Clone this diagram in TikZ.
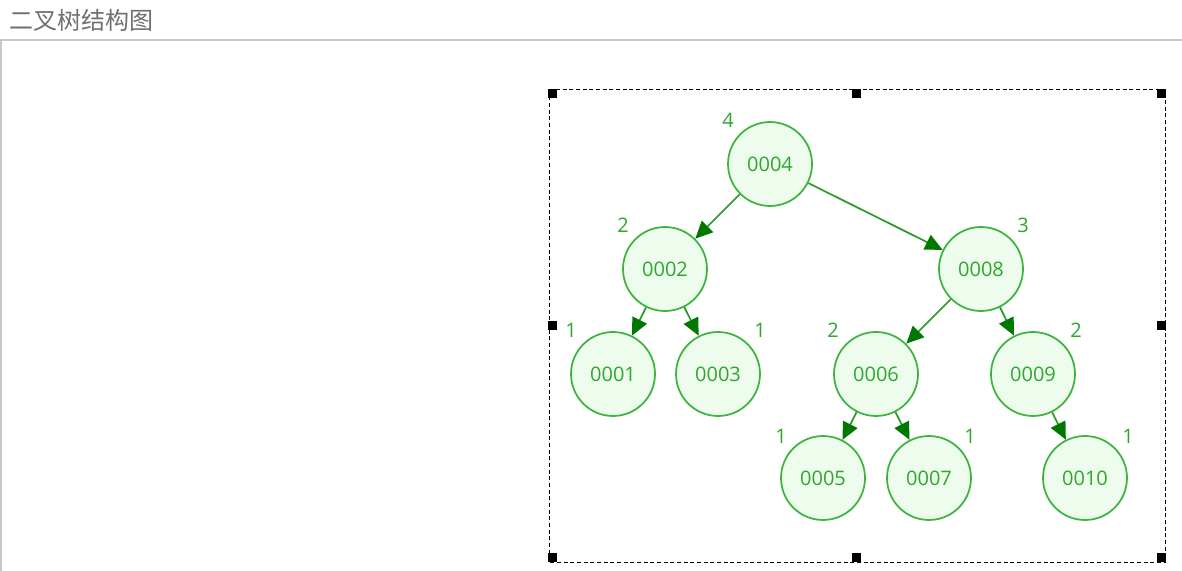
\documentclass[tikz,border=0pt]{standalone}
\usepackage{fontspec}
\setmainfont{Open Sans}
\newfontfamily\cjk{Noto Sans CJK SC}
\usetikzlibrary{arrows.meta}
\definecolor{nodeline}{HTML}{3CB43C}
\definecolor{nodefill}{HTML}{EEFCEE}
\definecolor{nodetext}{HTML}{2DA82D}
\definecolor{edgeline}{HTML}{2A9A2A}
\definecolor{tipgreen}{HTML}{007800}
\definecolor{rulegray}{HTML}{C8C8C8}
\definecolor{titlegray}{HTML}{707070}
\tikzset{
    treenode/.style={circle, draw=nodeline, fill=nodefill, line width=1.3pt, minimum size=63pt, inner sep=0pt, text=nodetext, font=\fontsize{15}{17}\selectfont},
    heightlabel/.style={text=nodetext, inner sep=0pt, font=\fontsize{15}{17}\selectfont},
    treeedge/.style={draw=edgeline, line width=1.3pt, -{Triangle[length=13pt, width=12pt, color=tipgreen]}}
}
\begin{document}
\begin{tikzpicture}[x=0.75pt, y=-0.75pt]
            \useasboundingbox (0, 0) rectangle (1182, 571);
            \fill[white] (0, 0) rectangle (1182, 571);
            % header
            \node[anchor=west, inner sep=0pt, text=titlegray, font=\cjk\fontsize{18}{20}\selectfont] (title) at (9, 20) {二叉树结构图};
            \draw[rulegray, line width=1.1pt] (0, 40) -- (1182, 40);
            \draw[rulegray, line width=0.8pt] (1, 40) -- (1, 571);
            % selection frame
            \draw[dashed, dash pattern=on 3pt off 2pt, line width=0.75pt] (549.5, 89.5) rectangle (1165.5, 562);
            \foreach \hx/\hy in {548/89, 852/89, 1157/89, 548/321, 1157/321, 548/553, 852/553, 1157/553}
                \fill (\hx, \hy) rectangle ++(9, 9);
            % tree
            \node[treenode] (n4) at (770, 164) {0004};
            \node[treenode] (n2) at (665, 269) {0002};
            \node[treenode] (n8) at (981, 269) {0008};
            \node[treenode] (n1) at (613, 374) {0001};
            \node[treenode] (n3) at (718, 374) {0003};
            \node[treenode] (n6) at (876, 374) {0006};
            \node[treenode] (n9) at (1033, 374) {0009};
            \node[treenode] (n5) at (823, 478) {0005};
            \node[treenode] (n7) at (929, 478) {0007};
            \node[treenode] (n10) at (1085, 478) {0010};
            \foreach \from/\to in {n4/n2, n4/n8, n2/n1, n2/n3, n8/n6, n8/n9, n6/n5, n6/n7, n9/n10}
                \draw[treeedge] (\from) -- (\to);
            % heights
            \node[heightlabel] (h4) at (728, 120) {4};
            \node[heightlabel] (h2) at (623, 225) {2};
            \node[heightlabel] (h8) at (1023, 225) {3};
            \node[heightlabel] (h1) at (571, 330) {1};
            \node[heightlabel] (h3) at (760, 330) {1};
            \node[heightlabel] (h6) at (833, 330) {2};
            \node[heightlabel] (h9) at (1076, 330) {2};
            \node[heightlabel] (h5) at (781, 436) {1};
            \node[heightlabel] (h7) at (970, 436) {1};
            \node[heightlabel] (h10) at (1128, 436) {1};
\end{tikzpicture}
\end{document}
